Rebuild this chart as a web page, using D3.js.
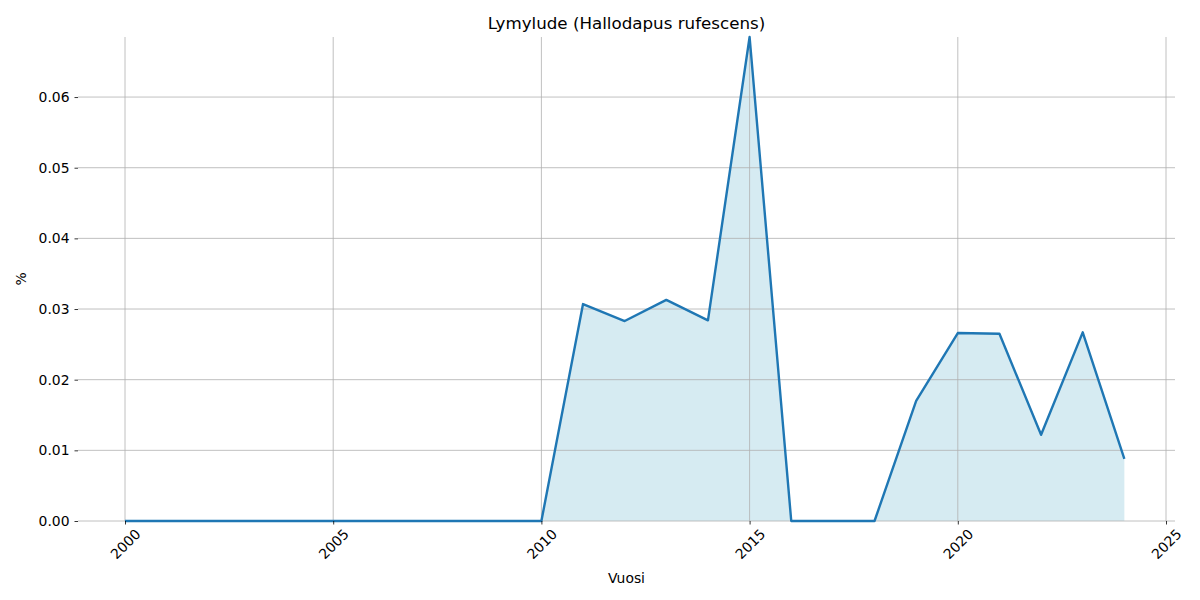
<!DOCTYPE html>
<html>
<head>
<meta charset="utf-8">
<script src="https://cdn.jsdelivr.net/npm/d3@7"></script>
<style>
  body { margin: 0; background: #fff; }
  svg text { font-family: "DejaVu Sans", sans-serif; fill: #000; }
</style>
</head>
<body>
<svg width="1200" height="600"></svg>
<script>
const years = d3.range(2000, 2025);
const values = [0, 0, 0, 0, 0, 0, 0, 0, 0, 0, 0,
    0.0307, 0.0283, 0.0313, 0.0284, 0.0685, 0, 0, 0,
    0.0170, 0.0266, 0.0265, 0.0122, 0.0267, 0.0088];
const xTicks = [2000, 2005, 2010, 2015, 2020, 2025];
const yTicks = [0, 0.01, 0.02, 0.03, 0.04, 0.05, 0.06];

const data = years.map((y, i) => ({year: y, value: values[i]}));

const svg = d3.select("svg");
const plotLeft = 78, plotRight = 1175, plotTop = 37, plotBottom = 521;

const x = d3.scaleLinear().domain([2000, 2025]).range([125, 1166]);
const y = d3.scaleLinear().domain([0, d3.max(values)]).range([plotBottom, plotTop]);

// fill under line
const area = d3.area()
    .x(d => x(d.year))
    .y0(y(0))
    .y1(d => y(d.value));

svg.append("path")
    .datum(data)
    .attr("d", area)
    .attr("fill", "#add8e6")
    .attr("fill-opacity", 0.5);

// grid
const grid = svg.append("g").attr("class", "grid");
grid.selectAll(".gx")
    .data(xTicks)
    .enter().append("line")
    .attr("x1", d => x(d)).attr("x2", d => x(d))
    .attr("y1", plotTop).attr("y2", plotBottom)
    .attr("stroke", "#b0b0b0").attr("stroke-width", 0.8);
grid.selectAll(".gy")
    .data(yTicks)
    .enter().append("line")
    .attr("x1", plotLeft).attr("x2", plotRight)
    .attr("y1", d => y(d)).attr("y2", d => y(d))
    .attr("stroke", "#b0b0b0").attr("stroke-width", 0.8);

// line
const line = d3.line()
    .x(d => x(d.year))
    .y(d => y(d.value));

svg.append("path")
    .datum(data)
    .attr("d", line)
    .attr("fill", "none")
    .attr("stroke", "#1f77b4")
    .attr("stroke-width", 2.4)
    .attr("stroke-linejoin", "round");

// x axis
const xAxis = svg.append("g")
    .attr("transform", `translate(0,${plotBottom})`)
    .call(d3.axisBottom(x).tickValues(xTicks).tickSize(3.5).tickFormat(d3.format("d")));
xAxis.select(".domain").remove();
xAxis.selectAll("line").attr("stroke", "#000").attr("stroke-width", 0.8);
xAxis.selectAll("text")
    .attr("font-size", 13.9)
    .attr("text-anchor", "middle")
    .attr("dominant-baseline", "central")
    .attr("y", 23)
    .attr("dy", null)
    .attr("transform", "rotate(-45 0 23)");

// y axis
const yAxis = svg.append("g")
    .attr("transform", `translate(${plotLeft},0)`)
    .call(d3.axisLeft(y).tickValues(yTicks).tickSize(3.5).tickPadding(5).tickFormat(d3.format(".2f")));
yAxis.select(".domain").remove();
yAxis.selectAll("line").attr("stroke", "#000").attr("stroke-width", 0.8);
yAxis.selectAll("text").attr("font-size", 13.9);

// titles
svg.append("text")
    .attr("x", (plotLeft + plotRight) / 2).attr("y", 29)
    .attr("text-anchor", "middle")
    .attr("font-size", 16.7)
    .text("Lymylude (Hallodapus rufescens)");

svg.append("text")
    .attr("x", (plotLeft + plotRight) / 2).attr("y", 583)
    .attr("text-anchor", "middle")
    .attr("font-size", 13.9)
    .text("Vuosi");

svg.append("text")
    .attr("transform", `translate(26,${(plotTop + plotBottom) / 2}) rotate(-90)`)
    .attr("text-anchor", "middle")
    .attr("font-size", 13.9)
    .text("%");
</script>
</body>
</html>
